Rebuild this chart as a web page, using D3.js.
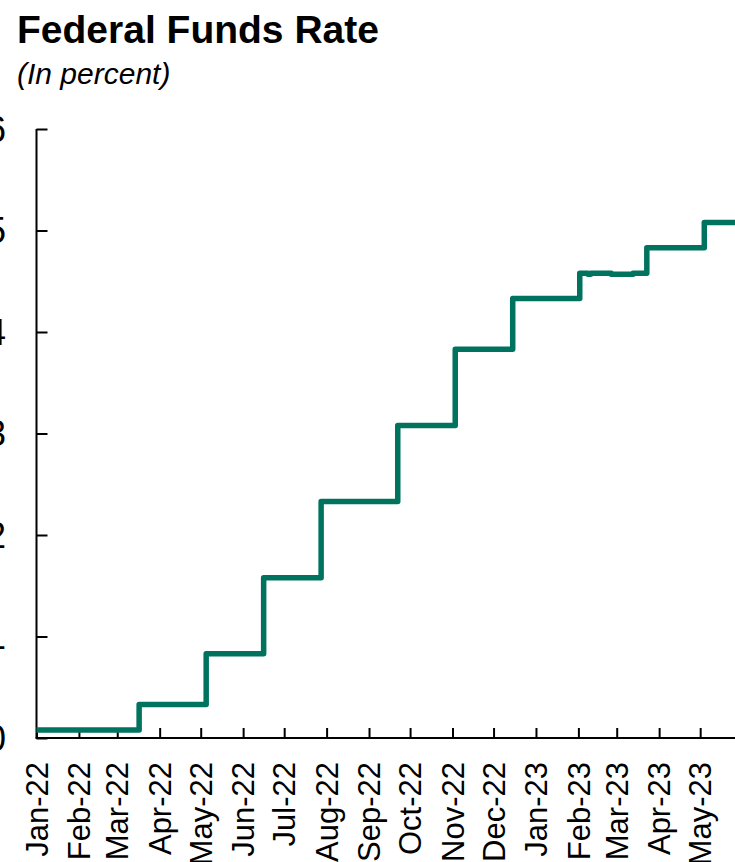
<!DOCTYPE html>
<html>
<head>
<meta charset="utf-8">
<script src="https://cdn.jsdelivr.net/npm/d3@7"></script>
<style>
  html, body { margin: 0; padding: 0; background: #fff; }
  svg { display: block; }
  text { font-family: "Liberation Sans", Arial, sans-serif; fill: #000; }
</style>
</head>
<body>
<script>
// Effective federal funds rate: dates where the rate changed, and the new level (percent)
const rateDates = ["2022-01-01", "2022-03-17", "2022-05-05", "2022-06-16", "2022-07-28",
                   "2022-09-22", "2022-11-03", "2022-12-15", "2023-02-02", "2023-02-08",
                   "2023-02-10", "2023-02-25", "2023-03-13", "2023-03-23", "2023-05-04",
                   "2023-05-31"];
const rateValues = [0.08, 0.33, 0.83, 1.58, 2.33,
                    3.08, 3.83, 4.33, 4.58, 4.57,
                    4.58, 4.57, 4.58, 4.83, 5.08,
                    5.08];

// Month ticks along the bottom
const tickMonths = ["2022-01-01", "2022-02-01", "2022-03-01", "2022-04-01", "2022-05-01",
                    "2022-06-01", "2022-07-01", "2022-08-01", "2022-09-01", "2022-10-01",
                    "2022-11-01", "2022-12-01", "2023-01-01", "2023-02-01", "2023-03-01",
                    "2023-04-01", "2023-05-01"];
const tickLabels = ["Jan-22", "Feb-22", "Mar-22", "Apr-22", "May-22", "Jun-22", "Jul-22",
                    "Aug-22", "Sep-22", "Oct-22", "Nov-22", "Dec-22", "Jan-23", "Feb-23",
                    "Mar-23", "Apr-23", "May-23"];
const yTicks = [0, 1, 2, 3, 4, 5, 6];

const W = 735, H = 862;
const parse = d3.utcParse("%Y-%m-%d");

const svg = d3.select("body").append("svg")
  .attr("width", W).attr("height", H);

// Scales
const x = d3.scaleUtc()
  .domain([parse("2022-01-01"), parse("2023-06-01")])
  .range([36.5, 742.6]);
const y = d3.scaleLinear()
  .domain([0, 6])
  .range([738, 129]);

// Title
svg.append("text")
  .attr("x", 17).attr("y", 43)
  .style("font-size", "39px").style("font-weight", "bold")
  .text("Federal Funds Rate");
svg.append("text")
  .attr("x", 17).attr("y", 84)
  .style("font-size", "30px").style("font-style", "italic")
  .text("(In percent)");

// Y axis: ticks point inward
const yAxis = svg.append("g")
  .attr("transform", `translate(${x.range()[0]},0)`)
  .call(d3.axisRight(y).tickValues(yTicks).tickSize(11).tickFormat(""));
yAxis.select(".domain").attr("stroke", "#000").attr("stroke-width", 2)
  .attr("d", `M0,${y(6)}V${y(0)}`);
yAxis.selectAll(".tick line").attr("stroke", "#000").attr("stroke-width", 2);

// Y tick labels sit at the far left edge of the page
svg.append("g").selectAll("text")
  .data(yTicks)
  .join("text")
  .attr("x", 6)
  .attr("y", d => y(d))
  .attr("dy", "0.36em")
  .attr("text-anchor", "end")
  .style("font-size", "36px")
  .text(d => d);

// X axis: ticks point upward at each month start
const xAxis = svg.append("g")
  .attr("transform", `translate(0,${y(0)})`)
  .call(d3.axisTop(x).tickValues(tickMonths.map(parse)).tickSize(10).tickFormat(""));
xAxis.select(".domain").attr("stroke", "#000").attr("stroke-width", 2)
  .attr("d", `M${x.range()[0] - 1},0H${W}`);
xAxis.selectAll(".tick line").attr("stroke", "#000").attr("stroke-width", 2);

svg.append("g").selectAll("text")
  .data(tickMonths)
  .join("text")
  .attr("transform", (d) => `translate(${x(parse(d))},762) rotate(-90)`)
  .attr("dy", "0.36em")
  .attr("text-anchor", "end")
  .style("font-size", "31px")
  .text((d, i) => tickLabels[i]);

// Rate line
const points = rateDates.map((d, i) => [parse(d), rateValues[i]]);
const line = d3.line()
  .x(d => x(d[0]))
  .y(d => y(d[1]))
  .curve(d3.curveStepAfter);

svg.append("path")
  .datum(points)
  .attr("d", line)
  .attr("fill", "none")
  .attr("stroke", "#00735f")
  .attr("stroke-width", 5.5)
  .attr("stroke-linejoin", "round");
</script>
</body>
</html>
